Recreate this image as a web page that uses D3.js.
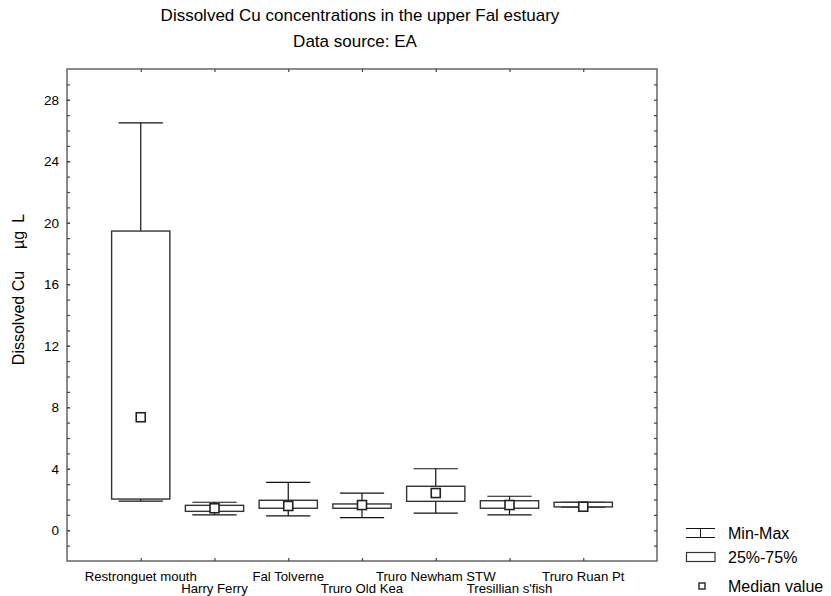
<!DOCTYPE html>
<html>
<head>
<meta charset="utf-8">
<script src="https://cdn.jsdelivr.net/npm/d3@7/dist/d3.min.js"></script>
<style>
html,body{margin:0;padding:0;background:#fff;}
text{font-family:"Liberation Sans",Arial,sans-serif;fill:#000;}
</style>
</head>
<body>
<svg id="chart" width="831" height="596"></svg>
<script>
const categories = ["Restronguet mouth","Harry Ferry","Fal Tolverne","Truro Old Kea","Truro Newham STW","Tresillian s'fish","Truro Ruan Pt"];
const minVals    = [1.9, 1.0, 0.93, 0.82, 1.12, 1.0, 1.5];
const q1Vals     = [2.03, 1.23, 1.43, 1.43, 1.88, 1.43, 1.52];
const medianVals = [7.35, 1.43, 1.58, 1.64, 2.42, 1.64, 1.53];
const q3Vals     = [19.46, 1.62, 1.95, 1.71, 2.86, 1.92, 1.82];
const maxVals    = [26.5, 1.82, 3.12, 2.42, 4.0, 2.21, 1.82];
const yTickLabels = [0, 4, 8, 12, 16, 20, 24, 28];
const yMinorTicks = d3.range(-1, 30, 1);
const legendLabels = ["Min-Max", "25%-75%", "Median value"];
const titleText = "Dissolved Cu concentrations in the upper Fal estuary";
const subtitleText = "Data source: EA";

const svg = d3.select("#chart");
const L = 67, R = 657, T = 69, B = 561;
const x = d3.scalePoint().domain(categories).range([L, R]).padding(1);
const y = d3.scaleLinear().domain([-2, 30]).range([B, T]);

const data = categories.map((c, i) => ({c, min: minVals[i], q1: q1Vals[i], med: medianVals[i], q3: q3Vals[i], max: maxVals[i], i}));

// Titles
svg.append("text").attr("x", 360).attr("y", 21).attr("text-anchor", "middle").style("font-size", "17px").text(titleText);
svg.append("text").attr("x", 355).attr("y", 47).attr("text-anchor", "middle").style("font-size", "17px").text(subtitleText);

// Frame
svg.append("rect").attr("x", L).attr("y", T).attr("width", R - L).attr("height", B - T)
  .attr("fill", "none").attr("stroke", "#666").attr("stroke-width", 1.5);

const tickStroke = "#444";
const gyL = svg.append("g").attr("transform", `translate(${L},0)`)
  .call(d3.axisLeft(y).tickValues(yMinorTicks).tickSize(-3).tickFormat(""));
const gyR = svg.append("g").attr("transform", `translate(${R},0)`)
  .call(d3.axisRight(y).tickValues(yMinorTicks).tickSize(-3).tickFormat(""));
const gyLab = svg.append("g").attr("transform", `translate(${L},0)`)
  .call(d3.axisLeft(y).tickValues(yTickLabels).tickSize(-3).tickPadding(8).tickFormat(d3.format("d")));
const gxB = svg.append("g").attr("transform", `translate(0,${B})`)
  .call(d3.axisBottom(x).tickSize(-3).tickFormat(""));
const gxT = svg.append("g").attr("transform", `translate(0,${T})`)
  .call(d3.axisTop(x).tickSize(-3).tickFormat(""));
[gyL, gyR, gyLab, gxB, gxT].forEach(g => {
  g.select(".domain").remove();
  g.selectAll(".tick line").attr("stroke", tickStroke).attr("stroke-width", 1.2);
});
gyLab.selectAll(".tick text").style("font-size", "13.5px").attr("fill", "#000");

// x labels staggered
svg.append("g").selectAll("text").data(categories).join("text")
  .attr("x", d => x(d))
  .attr("y", (d, i) => i % 2 === 0 ? 581 : 593)
  .attr("text-anchor", "middle")
  .style("font-size", "13.2px")
  .text(d => d);

// y label
const yl = svg.append("text").attr("transform", "translate(24,289.5) rotate(-90)")
  .attr("text-anchor", "middle").style("font-size", "16px");
yl.append("tspan").text("Dissolved Cu");
yl.append("tspan").attr("dx", 22).text("µg");
yl.append("tspan").attr("dx", 8).text("L");

// Boxes
const step = x.step();
const boxW = step * 0.79, capW = step * 0.6;
const g = svg.append("g");
const grp = g.selectAll("g.box").data(data).join("g").attr("class", "box");
grp.append("line").attr("x1", d => x(d.c)).attr("x2", d => x(d.c))
  .attr("y1", d => y(d.min)).attr("y2", d => y(d.max)).attr("stroke", "#111").attr("stroke-width", 1.2);
grp.append("line").attr("x1", d => x(d.c) - capW / 2).attr("x2", d => x(d.c) + capW / 2)
  .attr("y1", d => y(d.max)).attr("y2", d => y(d.max)).attr("stroke", "#111").attr("stroke-width", 1.2);
grp.append("line").attr("x1", d => x(d.c) - capW / 2).attr("x2", d => x(d.c) + capW / 2)
  .attr("y1", d => y(d.min)).attr("y2", d => y(d.min)).attr("stroke", "#111").attr("stroke-width", 1.2);
grp.append("rect").attr("x", d => x(d.c) - boxW / 2).attr("width", boxW)
  .attr("y", d => y(d.q3)).attr("height", d => y(d.q1) - y(d.q3))
  .attr("fill", "#fff").attr("stroke", "#333").attr("stroke-width", 1.4);
grp.append("rect").attr("x", d => x(d.c) - 4.5).attr("y", d => y(d.med) - 4.5)
  .attr("width", 9).attr("height", 9).attr("fill", "#fff").attr("stroke", "#222").attr("stroke-width", 1.6);

// Legend
const lg = svg.append("g");
lg.append("line").attr("x1", 686).attr("x2", 715).attr("y1", 528.5).attr("y2", 528.5).attr("stroke", "#111");
lg.append("line").attr("x1", 686).attr("x2", 715).attr("y1", 537.5).attr("y2", 537.5).attr("stroke", "#111");
lg.append("line").attr("x1", 700.5).attr("x2", 700.5).attr("y1", 528.5).attr("y2", 537.5).attr("stroke", "#111");
lg.append("rect").attr("x", 686.5).attr("y", 552.5).attr("width", 28.5).attr("height", 9).attr("fill", "#fff").attr("stroke", "#333").attr("stroke-width", 1.2);
lg.append("rect").attr("x", 699).attr("y", 583).attr("width", 6).attr("height", 6).attr("fill", "#fff").attr("stroke", "#222").attr("stroke-width", 1.4);
lg.selectAll("text").data(legendLabels).join("text")
  .attr("x", 728).attr("y", (d, i) => [538.5, 562.5, 591.5][i])
  .style("font-size", "16px").text(d => d);
</script>
</body>
</html>
